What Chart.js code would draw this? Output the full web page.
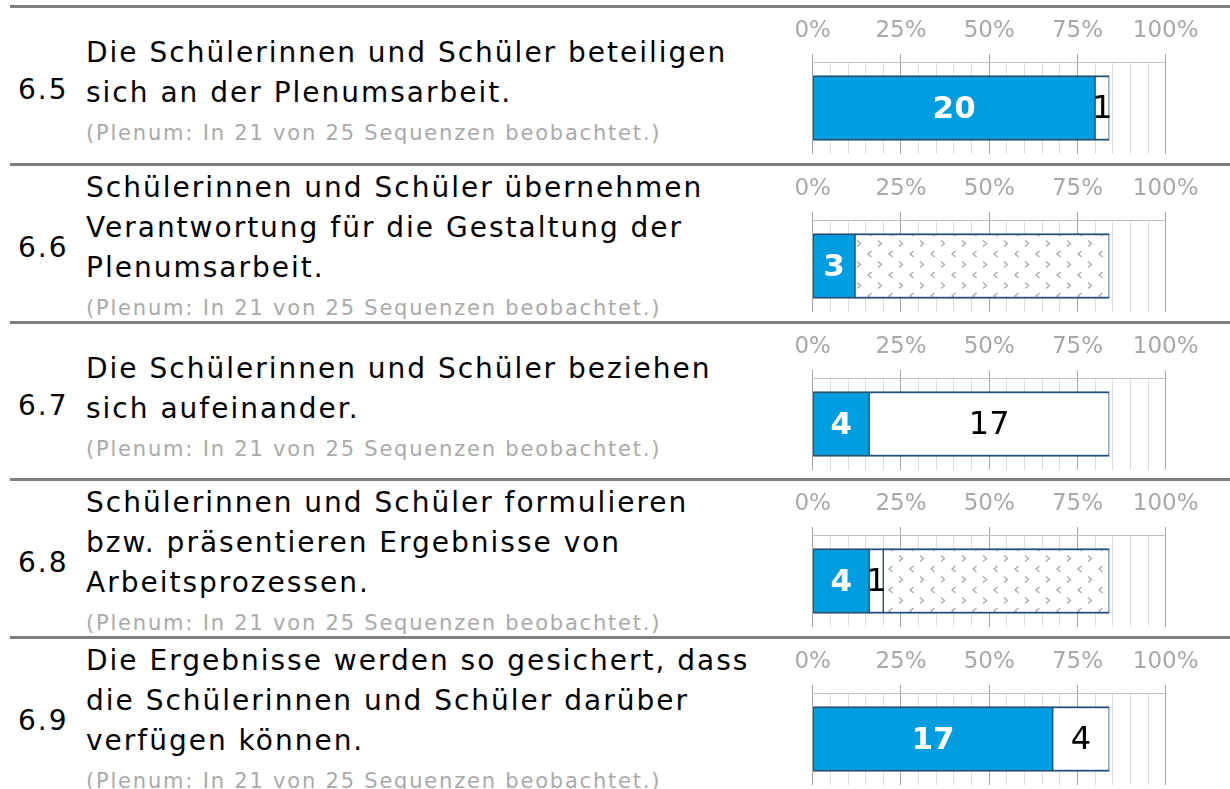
<!DOCTYPE html>
<html lang="de">
<head>
<meta charset="utf-8">
<title>Plenumsarbeit</title>
<script src="https://cdn.jsdelivr.net/npm/chart.js@4.4.1/dist/chart.umd.min.js"></script>
<style>
  body { margin: 0; width: 1230px; height: 789px; overflow: hidden; background: #fff;
         font-family: "DejaVu Sans", Verdana, sans-serif; }
  .row { position: absolute; left: 10px; width: 1220px; height: 155px; border-top: 3px solid #808080; }
  .num { position: absolute; left: 8px; top: 62px; font-size: 28px; line-height: 40px; color: #000;
         letter-spacing: 2px; }
  .txt { position: absolute; left: 76px; font-size: 28px; line-height: 40px; color: #000; white-space: nowrap;
         letter-spacing: 2px; }
  .sub { font-size: 21px; line-height: 28px; color: #aaa; margin-top: 6px; letter-spacing: 1.8px; }
  .row canvas { position: absolute; left: 750px; top: 0; }
</style>
</head>
<body>
<script>
// items 6.5 - 6.9, each observed in 21 of 25 sequences
const itemNumbers = ['6.5', '6.6', '6.7', '6.8', '6.9']
const itemLines = [
  ['Die Schülerinnen und Schüler beteiligen', 'sich an der Plenumsarbeit.'],
  ['Schülerinnen und Schüler übernehmen', 'Verantwortung für die Gestaltung der', 'Plenumsarbeit.'],
  ['Die Schülerinnen und Schüler beziehen', 'sich aufeinander.'],
  ['Schülerinnen und Schüler formulieren', 'bzw. präsentieren Ergebnisse von', 'Arbeitsprozessen.'],
  ['Die Ergebnisse werden so gesichert, dass', 'die Schülerinnen und Schüler darüber', 'verfügen können.']
]
const itemNote = '(Plenum: In 21 von 25 Sequenzen beobachtet.)'
const totalSequences = 25

// counts per item: yes / no / not assessable
const countYes = [20, 3, 4, 4, 17]
const countNo = [1, 0, 17, 1, 4]
const countOther = [0, 18, 0, 16, 0]

const tickLabels = ['0%', '25%', '50%', '75%', '100%']

const BLUE = '#009EE0'
const EDGE = '#1F4E79'
const FONT = '"DejaVu Sans", Verdana, sans-serif'

// small "< >" tile used for the not-assessable segment
const makePattern = () => {
  const c = document.createElement('canvas')
  c.width = 21
  c.height = 21
  const g = c.getContext('2d')
  g.fillStyle = '#fff'
  g.fillRect(0, 0, 21, 21)
  g.strokeStyle = '#acacac'
  g.lineWidth = 1.4
  g.beginPath()
  g.moveTo(6.5, 1); g.lineTo(3, 4); g.lineTo(6.5, 7)
  g.moveTo(13, 11.5); g.lineTo(16.5, 14.5); g.lineTo(13, 17.5)
  g.stroke()
  return g.createPattern(c, 'repeat')
}

// writes the count into the middle of each segment
const segmentLabels = {
  id: 'segmentLabels',
  afterDatasetsDraw(chart) {
    const ctx = chart.ctx
    chart.data.datasets.forEach((ds, di) => {
      if (!ds.labelFont) return
      chart.getDatasetMeta(di).data.forEach((bar, i) => {
        const v = ds.data[i]
        if (!v) return
        ctx.save()
        ctx.font = ds.labelFont
        ctx.fillStyle = ds.labelColor
        ctx.textAlign = 'center'
        ctx.textBaseline = 'middle'
        ctx.fillText(String(v), (bar.x + bar.base) / 2, bar.y + 2)
        ctx.restore()
      })
    })
  }
}

const isMajor = (c) => c.index % 5 === 0

const createRow = (i) => {
  const row = document.createElement('div')
  row.className = 'row'
  row.style.top = (5 + i * 157.8) + 'px'

  const num = document.createElement('div')
  num.className = 'num'
  num.textContent = itemNumbers[i]
  row.appendChild(num)

  const txt = document.createElement('div')
  txt.className = 'txt'
  txt.style.top = (itemLines[i].length === 2 ? 25 : 2) + 'px'
  itemLines[i].forEach(line => {
    const d = document.createElement('div')
    d.textContent = line
    txt.appendChild(d)
  })
  const sub = document.createElement('div')
  sub.className = 'sub'
  sub.textContent = itemNote
  txt.appendChild(sub)
  row.appendChild(txt)

  const canvas = document.createElement('canvas')
  canvas.width = 470
  canvas.height = 154
  row.appendChild(canvas)
  document.body.appendChild(row)

  const common = {
    borderColor: EDGE,
    borderWidth: { top: 2, bottom: 2, left: 1, right: 1 },
    borderSkipped: false,
    barThickness: 65
  }

  new Chart(canvas, {
    type: 'bar',
    data: {
      labels: [''],
      datasets: [
        { ...common, data: [countYes[i] || null], backgroundColor: BLUE,
          labelFont: 'bold 31px ' + FONT, labelColor: '#fff' },
        { ...common, data: [countNo[i] || null], backgroundColor: '#fff',
          labelFont: '32px ' + FONT, labelColor: '#000' },
        { ...common, data: [countOther[i] || null], backgroundColor: makePattern() }
      ]
    },
    options: {
      indexAxis: 'y',
      responsive: false,
      animation: false,
      layout: { padding: { left: 52.7, right: 64.3, top: 0, bottom: 8 } },
      plugins: { legend: { display: false }, tooltip: { enabled: false } },
      scales: {
        x: {
          type: 'linear',
          position: 'top',
          stacked: true,
          min: 0,
          max: totalSequences,
          afterFit: (s) => { s.height = 54 },
          ticks: {
            stepSize: totalSequences / 20,
            autoSkip: false,
            maxRotation: 0,
            padding: 9,
            color: '#a8a8a8',
            font: { family: FONT, size: 23 },
            callback: (v, idx) => idx % 5 === 0 ? tickLabels[idx / 5] : ''
          },
          grid: {
            color: (c) => isMajor(c) ? '#a6a6a6' : '#dcdcdc',
            tickColor: (c) => isMajor(c) ? '#a6a6a6' : 'rgba(0,0,0,0)',
            tickLength: 8,
            lineWidth: 1
          },
          border: { display: true, color: '#c0c0c0' }
        },
        y: { display: false, stacked: true }
      }
    },
    plugins: [segmentLabels]
  })
}

itemNumbers.forEach((n, i) => createRow(i))
</script>
</body>
</html>
